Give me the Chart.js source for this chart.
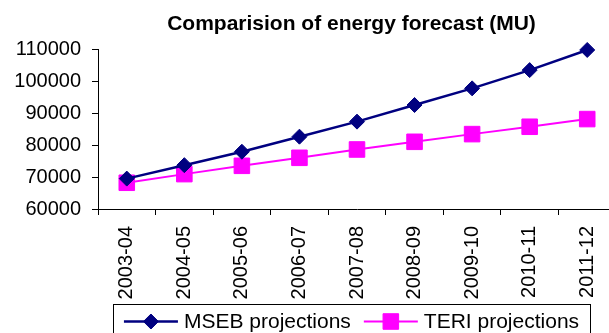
<!DOCTYPE html>
<html>
<head>
<meta charset="utf-8">
<script src="https://cdn.jsdelivr.net/npm/chart.js"></script>
<style>
  html, body { margin: 0; padding: 0; overflow: hidden; background: #fff; }
  #wrap { position: relative; width: 616px; height: 333px; }
</style>
</head>
<body>
<div id="wrap"><canvas id="c" width="616" height="333"></canvas></div>
<script>
const chartTitle = 'Comparision of energy forecast (MU)';
const categories = ['2003-04', '2004-05', '2005-06', '2006-07', '2007-08', '2008-09', '2009-10', '2010-11', '2011-12'];
const seriesNames = ['MSEB projections', 'TERI projections'];
const msebValues = [69500, 73700, 77900, 82600, 87300, 92500, 97700, 103400, 109700];
const teriValues = [68200, 70900, 73500, 76000, 78600, 81000, 83400, 85700, 88100];
const yTicks = [60000, 70000, 80000, 90000, 100000, 110000];

const FONT = 'Arial, "Liberation Sans", sans-serif';
const NAVY = '#000080';
const MAGENTA = '#FF00FF';

function drawMarker(ctx, style, x, y, r, color) {
  ctx.save();
  ctx.fillStyle = color;
  ctx.strokeStyle = color;
  ctx.lineWidth = 1;
  ctx.beginPath();
  if (style === 'rectRot') {
    ctx.moveTo(x - r, y); ctx.lineTo(x, y - r); ctx.lineTo(x + r, y); ctx.lineTo(x, y + r);
    ctx.closePath();
  } else {
    const s = Math.SQRT1_2 * r;
    ctx.rect(x - s, y - s, 2 * s, 2 * s);
  }
  ctx.fill();
  ctx.stroke();
  ctx.restore();
}

const decorPlugin = {
  id: 'decor',
  afterDraw(chart) {
    const ctx = chart.ctx;
    const cx = 351.5;
    ctx.save();
    ctx.fillStyle = '#000';
    ctx.font = 'bold 21px ' + FONT;
    ctx.textAlign = 'center';
    ctx.textBaseline = 'alphabetic';
    ctx.fillText(chartTitle, cx, 30);
    ctx.restore();

    ctx.save();
    ctx.fillStyle = '#fff';
    ctx.fillRect(113.5, 304.5, 477, 40);
    ctx.strokeStyle = '#000';
    ctx.lineWidth = 1;
    ctx.strokeRect(113.5, 304.5, 477, 40);
    ctx.font = '21px ' + FONT;
    const lineLen = 54, textGap = 6, itemGap = 13;
    const widths = seriesNames.map(n => ctx.measureText(n).width);
    const total = widths.reduce((a, w) => a + lineLen + textGap + w, 0) + itemGap * (seriesNames.length - 1);
    let x = cx - total / 2;
    const ly = 321.5;
    chart.data.datasets.forEach((ds, i) => {
      ctx.strokeStyle = ds.borderColor;
      ctx.lineWidth = ds.borderWidth;
      ctx.beginPath();
      ctx.moveTo(x, ly);
      ctx.lineTo(x + lineLen, ly);
      ctx.stroke();
      drawMarker(ctx, ds.pointStyle, x + lineLen / 2, ly, ds.pointRadius, ds.pointBackgroundColor);
      ctx.fillStyle = '#000';
      ctx.textAlign = 'left';
      ctx.textBaseline = 'alphabetic';
      ctx.fillText(ds.label, x + lineLen + textGap, 328);
      x += lineLen + textGap + widths[i] + itemGap;
    });
    ctx.restore();
  }
};

new Chart(document.getElementById('c'), {
  type: 'line',
  data: {
    labels: categories,
    datasets: [
      {
        label: seriesNames[0],
        data: msebValues,
        borderColor: NAVY,
        backgroundColor: NAVY,
        borderWidth: 2.5,
        pointStyle: 'rectRot',
        pointRadius: 7.5,
        pointBackgroundColor: NAVY,
        pointBorderColor: NAVY,
        pointBorderWidth: 1,
        tension: 0,
        fill: false,
        clip: false
      },
      {
        label: seriesNames[1],
        data: teriValues,
        borderColor: MAGENTA,
        backgroundColor: MAGENTA,
        borderWidth: 2,
        pointStyle: 'rect',
        pointRadius: 11,
        pointBackgroundColor: MAGENTA,
        pointBorderColor: MAGENTA,
        pointBorderWidth: 1,
        tension: 0,
        fill: false,
        clip: false
      }
    ]
  },
  options: {
    responsive: false,
    animation: false,
    layout: { autoPadding: false, padding: { top: 49, left: 0, right: 0, bottom: 0 } },
    plugins: {
      legend: { display: false },
      title: { display: false },
      tooltip: { enabled: false }
    },
    scales: {
      x: {
        type: 'category',
        offset: true,
        grid: { display: true, offset: true, drawOnChartArea: false, drawTicks: true, tickLength: 6, color: '#000' },
        border: { display: true, color: '#000', width: 1 },
        ticks: {
          color: '#000',
          font: { family: FONT, size: 20 },
          minRotation: 90,
          maxRotation: 90,
          padding: 11,
          autoSkip: false
        },
        afterFit(scale) {
          scale.height = 124;
          scale.paddingLeft = 0;
          scale.paddingRight = 0;
        }
      },
      y: {
        min: yTicks[0],
        max: yTicks[yTicks.length - 1],
        afterBuildTicks(scale) { scale.ticks = yTicks.map(v => ({ value: v })); },
        grid: { display: true, drawOnChartArea: false, drawTicks: true, tickLength: 6, color: '#000' },
        border: { display: true, color: '#000', width: 1 },
        ticks: {
          color: '#000',
          font: { family: FONT, size: 20 },
          padding: 11,
          callback: v => String(v)
        },
        afterFit(scale) {
          scale.width = 98;
          scale.paddingTop = 0;
          scale.paddingBottom = 0;
        }
      }
    }
  },
  plugins: [decorPlugin]
});
</script>
</body>
</html>
